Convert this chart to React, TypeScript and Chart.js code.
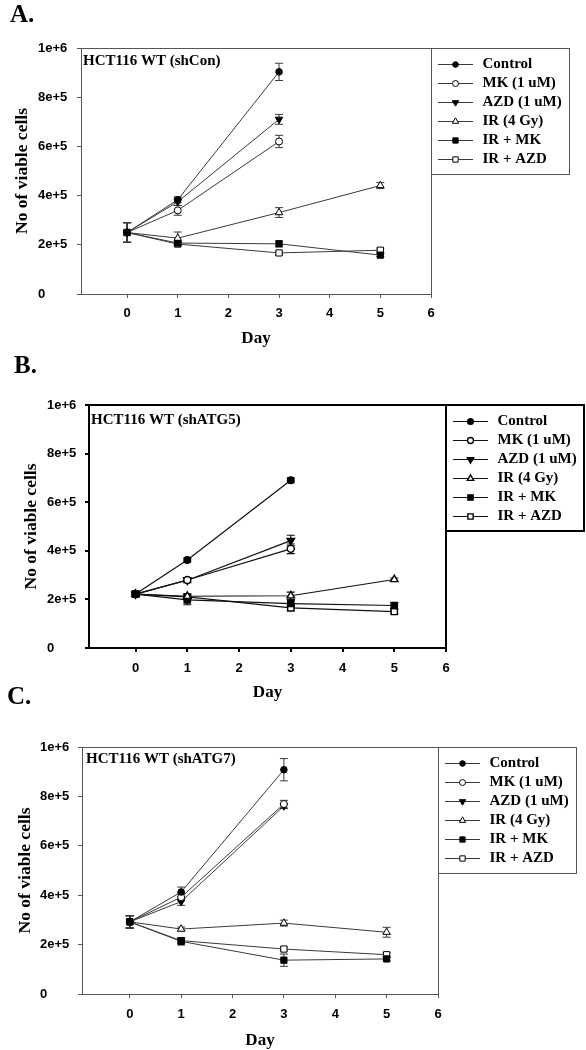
import React, { useEffect, useRef } from 'react';
import { Chart, registerables } from 'chart.js';

Chart.register(...registerables);

// ---------- data ----------
const DAYS = [0, 1, 3, 5];
const SERIES = ['Control', 'MK (1 uM)', 'AZD (1 uM)', 'IR (4 Gy)', 'IR + MK', 'IR + AZD'];
const X_TICKS = [0, 1, 2, 3, 4, 5, 6];
const Y_TICKS = [0, 200000, 400000, 600000, 800000, 1000000];
const Y_TICK_LABELS = ['0', '2e+5', '4e+5', '6e+5', '8e+5', '1e+6'];
const X_TITLE = 'Day';
const Y_TITLE = 'No of viable cells';

// Panel A (shCon)
const A_CONTROL = [250000, 383000, 903000];
const A_CONTROL_ERR = [40000, 12000, 35000];
const A_MK = [250000, 340000, 620000];
const A_MK_ERR = [40000, 20000, 25000];
const A_AZD = [250000, 375000, 710000];
const A_AZD_ERR = [40000, 15000, 20000];
const A_IR = [250000, 227000, 331000, 441000];
const A_IR_ERR = [40000, 25000, 20000, 12000];
const A_IRMK = [250000, 207000, 204000, 158000];
const A_IRMK_ERR = [40000, 8000, 12000, 6000];
const A_IRAZD = [250000, 203000, 167000, 178000];
const A_IRAZD_ERR = [40000, 8000, 8000, 8000];

// Panel B (shATG5)
const B_CONTROL = [222000, 362000, 690000];
const B_CONTROL_ERR = [10000, 8000, 10000];
const B_MK = [222000, 280000, 408000];
const B_MK_ERR = [10000, 10000, 20000];
const B_AZD = [222000, 279000, 442000];
const B_AZD_ERR = [10000, 10000, 22000];
const B_IR = [222000, 213000, 215000, 282000];
const B_IR_ERR = [10000, 10000, 15000, 6000];
const B_IRMK = [222000, 198000, 183000, 175000];
const B_IRMK_ERR = [10000, 20000, 15000, 12000];
const B_IRAZD = [222000, 210000, 165000, 150000];
const B_IRAZD_ERR = [10000, 10000, 10000, 8000];

// Panel C (shATG7)
const C_CONTROL = [292000, 413000, 908000];
const C_CONTROL_ERR = [25000, 20000, 45000];
const C_MK = [292000, 392000, 769000];
const C_MK_ERR = [25000, 15000, 15000];
const C_AZD = [292000, 374000, 761000];
const C_AZD_ERR = [25000, 15000, 10000];
const C_IR = [292000, 263000, 287000, 250000];
const C_IR_ERR = [25000, 8000, 12000, 20000];
const C_IRMK = [292000, 213000, 137000, 142000];
const C_IRMK_ERR = [25000, 15000, 25000, 8000];
const C_IRAZD = [292000, 216000, 182000, 159000];
const C_IRAZD_ERR = [25000, 10000, 8000, 8000];

// ---------- styles ----------
const SANS = '"Liberation Sans", Arial, sans-serif';
const SERIF = '"Liberation Serif", "Times New Roman", serif';

const MARKERS = [
  { style: 'circle', rotation: 0, radius: 3.3, filled: true },
  { style: 'circle', rotation: 0, radius: 3.5, filled: false },
  { style: 'triangle', rotation: 180, radius: 4.3, filled: true },
  { style: 'triangle', rotation: 0, radius: 4.3, filled: false },
  { style: 'rect', rotation: 0, radius: 4.4, filled: true },
  { style: 'rect', rotation: 0, radius: 4.4, filled: false },
];

const PANELS = [
  {
    letter: 'A.', label: 'HCT116 WT (shCon)',
    means: [A_CONTROL, A_MK, A_AZD, A_IR, A_IRMK, A_IRAZD],
    errs: [A_CONTROL_ERR, A_MK_ERR, A_AZD_ERR, A_IR_ERR, A_IRMK_ERR, A_IRAZD_ERR],
    geo: { top: 0, h: 350, padLeft: 38, yAxisW: 43, padTop: 48, padRight: 155, xAxisH: 56, xMin: -0.91,
      tickPad: 7.5, xTitlePad: 1.5, yTitlePad: -26, letterX: 10, letterY: 16, labelDx: 2, labelDy: 13 },
    lineColor: '#3a3a3a', lineWidth: 1, axisColor: '#555', axisWidth: 1, markerBorder: 1,
  },
  {
    letter: 'B.', label: 'HCT116 WT (shATG5)',
    means: [B_CONTROL, B_MK, B_AZD, B_IR, B_IRMK, B_IRAZD],
    errs: [B_CONTROL_ERR, B_MK_ERR, B_AZD_ERR, B_IR_ERR, B_IRMK_ERR, B_IRAZD_ERR],
    geo: { top: 340, h: 365, padLeft: 47, yAxisW: 42, padTop: 65, padRight: 140, xAxisH: 57, xMin: -0.9,
      tickPad: 9, xTitlePad: 1.8, yTitlePad: -26.5, letterX: 14, letterY: 367 - 340, labelDx: 2, labelDy: 15 },
    lineColor: '#111', lineWidth: 1.2, axisColor: '#000', axisWidth: 2, markerBorder: 1.4,
  },
  {
    letter: 'C.', label: 'HCT116 WT (shATG7)',
    means: [C_CONTROL, C_MK, C_AZD, C_IR, C_IRMK, C_IRAZD],
    errs: [C_CONTROL_ERR, C_MK_ERR, C_AZD_ERR, C_IR_ERR, C_IRMK_ERR, C_IRAZD_ERR],
    geo: { top: 676, h: 374, padLeft: 40, yAxisW: 42, padTop: 71, padRight: 148, xAxisH: 56, xMin: -0.93,
      tickPad: 8.5, xTitlePad: -1.2, yTitlePad: -25.5, letterX: 7, letterY: 698 - 676, labelDx: 4, labelDy: 12.5 },
    lineColor: '#3a3a3a', lineWidth: 1, axisColor: '#555', axisWidth: 1, markerBorder: 1,
  },
];

function drawMarker(ctx: any, m: any, x: number, y: number, r: number, bw: number) {
  ctx.save();
  ctx.beginPath();
  if (m.style === 'circle') {
    ctx.arc(x, y, r, 0, Math.PI * 2);
  } else if (m.style === 'rect') {
    const s = r * Math.SQRT1_2;
    ctx.rect(x - s, y - s, 2 * s, 2 * s);
  } else {
    let a = (m.rotation * Math.PI) / 180;
    for (let k = 0; k < 3; k++) {
      const px = x + Math.sin(a) * r;
      const py = y - Math.cos(a) * r;
      if (k === 0) ctx.moveTo(px, py);
      else ctx.lineTo(px, py);
      a += (2 * Math.PI) / 3;
    }
    ctx.closePath();
  }
  ctx.fillStyle = m.filled ? '#000' : '#fff';
  ctx.fill();
  ctx.strokeStyle = '#000';
  ctx.lineWidth = bw;
  ctx.stroke();
  ctx.restore();
}

function Panel({ cfg }: { cfg: any }) {
  const ref = useRef<HTMLCanvasElement>(null);

  useEffect(() => {
    const g = cfg.geo;

    const errorBars = {
      id: 'errorBars',
      beforeDatasetsDraw(chart: any) {
        const { ctx } = chart;
        const xs = chart.scales.x;
        const ys = chart.scales.y;
        ctx.save();
        ctx.strokeStyle = cfg.lineColor;
        ctx.lineWidth = cfg.lineWidth;
        cfg.means.forEach((vals: number[], i: number) => {
          vals.forEach((v: number, j: number) => {
            const e = cfg.errs[i][j];
            const px = xs.getPixelForValue(DAYS[j]);
            const y1 = ys.getPixelForValue(v + e);
            const y2 = ys.getPixelForValue(v - e);
            const cap = 4;
            ctx.beginPath();
            ctx.moveTo(px, y1); ctx.lineTo(px, y2);
            ctx.moveTo(px - cap, y1); ctx.lineTo(px + cap, y1);
            ctx.moveTo(px - cap, y2); ctx.lineTo(px + cap, y2);
            ctx.stroke();
          });
        });
        ctx.restore();
      },
    };

    const frame = {
      id: 'frame',
      beforeDatasetsDraw(chart: any) {
        const { ctx, chartArea: a } = chart;
        ctx.save();
        ctx.strokeStyle = cfg.axisColor;
        ctx.lineWidth = cfg.axisWidth;
        const off = cfg.axisWidth % 2 === 1 ? 0.5 : 0;
        ctx.beginPath();
        ctx.moveTo(Math.round(a.left) + off, Math.round(a.top) + off);
        ctx.lineTo(Math.round(a.right) + off, Math.round(a.top) + off);
        ctx.lineTo(Math.round(a.right) + off, Math.round(a.bottom) + off);
        ctx.stroke();
        ctx.restore();
      },
    };

    const annotations = {
      id: 'annotations',
      afterDraw(chart: any) {
        const { ctx, chartArea: a } = chart;
        ctx.save();
        // panel letter
        ctx.fillStyle = '#000';
        ctx.textBaseline = 'middle';
        ctx.textAlign = 'left';
        ctx.font = `bold 25px ${SERIF}`;
        ctx.fillText(cfg.letter, g.letterX, g.letterY);
        // inner label
        ctx.font = `bold 15px ${SERIF}`;
        ctx.fillText(cfg.label, a.left + g.labelDx, a.top + g.labelDy);
        // legend
        const bx = Math.round(a.right);
        const by = Math.round(a.top);
        const bw = 138;
        const bh = 126;
        const off = cfg.axisWidth % 2 === 1 ? 0.5 : 0;
        ctx.fillStyle = '#fff';
        ctx.fillRect(bx, by, bw, bh);
        ctx.strokeStyle = cfg.axisColor;
        ctx.lineWidth = cfg.axisWidth;
        ctx.strokeRect(bx + off, by + off, bw, bh);
        SERIES.forEach((name: string, i: number) => {
          const ry = by + 16.5 + i * 19;
          ctx.strokeStyle = cfg.lineColor;
          ctx.lineWidth = cfg.lineWidth;
          ctx.beginPath();
          ctx.moveTo(bx + 7, ry);
          ctx.lineTo(bx + 42, ry);
          ctx.stroke();
          drawMarker(ctx, MARKERS[i], bx + 24.5, ry, MARKERS[i].radius * 0.85, cfg.markerBorder);
          ctx.fillStyle = '#000';
          ctx.font = `bold 15px ${SERIF}`;
          ctx.textAlign = 'left';
          ctx.textBaseline = 'middle';
          ctx.fillText(name, bx + 51.5, ry);
        });
        ctx.restore();
      },
    };

    const chart = new Chart(ref.current as HTMLCanvasElement, {
      type: 'line',
      data: {
        datasets: SERIES.map((name, i) => ({
          label: name,
          data: cfg.means[i].map((v: number, j: number) => ({ x: DAYS[j], y: v })),
          borderColor: cfg.lineColor,
          borderWidth: cfg.lineWidth,
          pointStyle: MARKERS[i].style,
          pointRotation: MARKERS[i].rotation,
          pointRadius: MARKERS[i].radius,
          pointHoverRadius: MARKERS[i].radius,
          pointBackgroundColor: MARKERS[i].filled ? '#000' : '#fff',
          pointBorderColor: '#000',
          pointBorderWidth: cfg.markerBorder,
          fill: false,
          tension: 0,
        })),
      },
      options: {
        animation: false,
        responsive: false,
        events: [],
        layout: { padding: { left: g.padLeft, top: g.padTop, right: g.padRight, bottom: 0 } },
        plugins: { legend: { display: false }, tooltip: { enabled: false }, title: { display: false } },
        scales: {
          x: {
            type: 'linear',
            min: g.xMin,
            max: 6,
            afterBuildTicks: (s: any) => { s.ticks = X_TICKS.map((v) => ({ value: v })); },
            afterFit: (s: any) => { s.height = g.xAxisH; },
            grid: { drawOnChartArea: false, drawTicks: true, tickLength: 4, color: cfg.axisColor, lineWidth: cfg.axisWidth },
            border: { display: true, color: cfg.axisColor, width: cfg.axisWidth },
            ticks: {
              autoSkip: false, maxRotation: 0, padding: g.tickPad, color: '#000',
              font: { family: SANS, size: 13, weight: 'bold' },
              callback: (v: any) => String(v),
            },
            title: {
              display: true, text: X_TITLE, color: '#000',
              font: { family: SERIF, size: 17, weight: 'bold' },
              padding: { top: 0, bottom: g.xTitlePad },
            },
          },
          y: {
            type: 'linear',
            min: 0,
            max: 1000000,
            afterBuildTicks: (s: any) => { s.ticks = Y_TICKS.map((v) => ({ value: v })); },
            afterFit: (s: any) => { s.width = g.yAxisW; },
            grid: { drawOnChartArea: false, drawTicks: true, tickLength: 4, color: cfg.axisColor, lineWidth: cfg.axisWidth },
            border: { display: true, color: cfg.axisColor, width: cfg.axisWidth },
            ticks: {
              crossAlign: 'far', padding: 4, color: '#000',
              font: { family: SANS, size: 13, weight: 'bold' },
              callback: (v: any) => Y_TICK_LABELS[Y_TICKS.indexOf(v)] ?? '',
            },
            title: {
              display: true, text: Y_TITLE, color: '#000',
              font: { family: SERIF, size: 17.5, weight: 'bold' },
              padding: { top: g.yTitlePad, bottom: 0 },
            },
          },
        },
      } as any,
      plugins: [frame, errorBars, annotations],
    });
    return () => chart.destroy();
  }, [cfg]);

  return (
    <canvas
      ref={ref}
      width={586}
      height={cfg.geo.h}
      style={{ position: 'absolute', left: 0, top: cfg.geo.top, display: 'block' }}
    />
  );
}

export default function App() {
  return (
    <div style={{ position: 'absolute', left: 0, top: 0, width: 586, height: 1050, background: '#fff', overflow: 'hidden' }}>
      {PANELS.map((p) => (
        <Panel key={p.letter} cfg={p} />
      ))}
    </div>
  );
}
